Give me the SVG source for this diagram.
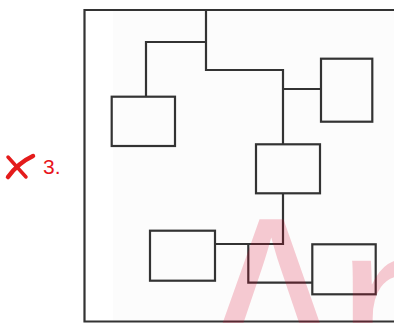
<svg xmlns="http://www.w3.org/2000/svg" width="394" height="323" viewBox="0 0 394 323">
<defs>
<style>
.box{fill:none;stroke:#333;stroke-width:2.2}
.ln{fill:none;stroke:#333;stroke-width:2.2;stroke-linejoin:miter}
.lbl{font-family:"Liberation Sans",Arial,sans-serif;font-size:21px;fill:#e8141c}
.wm{font-family:"Liberation Sans",Arial,sans-serif;font-size:260px;fill:#dc0028;fill-opacity:0.2}
</style>
</defs>
<rect x="0" y="0" width="394" height="323" fill="#ffffff"/>
<rect x="113" y="11" width="281" height="310" fill="#fcfcfc"/>
<g id="label">
<path d="M8,177 Q18,163 33,156" fill="none" stroke="#e41b1b" stroke-width="4.5" stroke-linecap="round"/>
<path d="M8,157 Q16,166 26,177" fill="none" stroke="#e41b1b" stroke-width="3.5" stroke-linecap="round"/>
<text class="lbl" x="43" y="174">3.</text>
</g>
<g id="frame">
<path class="ln" d="M394,10 H84.5 V321.5 H394"/>
</g>
<g id="connectors">
<path class="ln" d="M206,10 V70 H283 V144.3"/>
<path class="ln" d="M206,42 H146 V96.7"/>
<path class="ln" d="M283,89 H321"/>
<path class="ln" d="M283,193.3 V244 H215"/>
<path class="ln" d="M248.3,244 V282.7 H312.3"/>
</g>
<g id="node1"><rect class="box" x="111.7" y="96.7" width="63.3" height="49.3"/></g>
<g id="node2"><rect class="box" x="321" y="58.7" width="51.3" height="63"/></g>
<g id="node3"><rect class="box" x="256" y="144.3" width="64" height="49"/></g>
<g id="node4"><rect class="box" x="150" y="230.7" width="65" height="50"/></g>
<g id="node5"><rect class="box" x="312.3" y="244.3" width="63.4" height="50"/></g>
<g id="watermark">
<text class="wm" transform="translate(271,398) scale(0.87,1)"><tspan x="-86.7" y="0">A</tspan><tspan x="76" y="0">n</tspan></text>
</g>
</svg>
